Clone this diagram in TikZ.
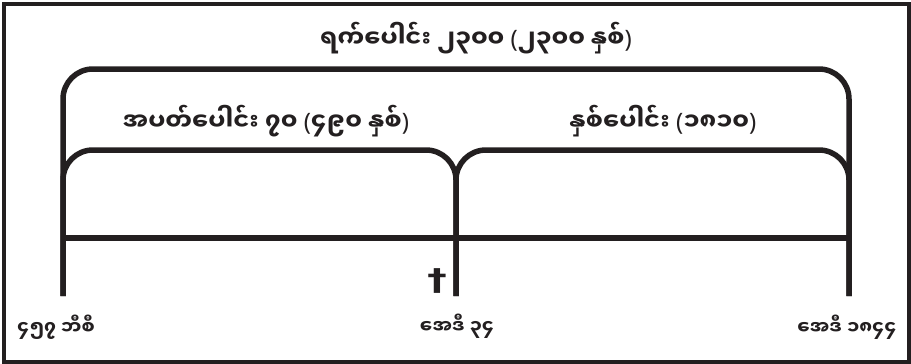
\documentclass[tikz,border=0pt]{standalone}
\usepackage{fontspec}
\newfontfamily\mymr[Script=Myanmar]{Noto Sans Myanmar UI}
\newfontfamily\latinfont{Noto Sans}
\newfontfamily\symfont{DejaVu Sans}
\newcommand{\lparen}{{\latinfont\bfseries(}}
\newcommand{\rparen}{{\latinfont\bfseries)}}
\definecolor{ink}{HTML}{231F20}
\tikzset{
	period/.style={draw=ink, line width=5.5pt, rounded corners=30pt},
	spanlabel/.style={font=\mymr\bfseries\fontsize{24}{28}\selectfont, text=ink, inner sep=0pt},
	datelabel/.style={font=\mymr\bfseries\fontsize{18.5}{22}\selectfont, text=ink, inner sep=0pt},
}

\begin{document}
\begin{tikzpicture}[x=1pt, y=-1pt]
		\useasboundingbox (0,0) rectangle (911,364);
		\draw[ink, line width=4pt] (3.5,4) rectangle (909,362);

		\coordinate (bc457) at (63,296);
		\coordinate (ad34) at (456,296);
		\coordinate (ad1844) at (849,296);
		\coordinate (outer) at (456,69);
		\coordinate (inner) at (456,150);
		\coordinate (timeline) at (456,238);

		\draw[period] (bc457) |- (outer) -| (ad1844);
		\draw[period] (ad34) |- (bc457 |- inner) -- (bc457);
		\draw[period] (ad34) |- (ad1844 |- inner) -- (ad1844);
		\draw[period, rounded corners=0pt] (bc457 |- timeline) -- (ad1844 |- timeline);

		\node[spanlabel] (days) at (476,38) {ရက်ပေါင်း ၂၃၀၀ \lparen၂၃၀၀ နှစ်\rparen};
		\node[spanlabel] (weeks) at (266,121) {အပတ်ပေါင်း ၇၀ \lparen၄၉၀ နှစ်\rparen};
		\node[spanlabel] (years) at (663,121) {နှစ်ပေါင်း \lparen၁၈၁၀\rparen};

		\node[datelabel] (start) at (56,327) {၄၅၇ ဘီစီ};
		\node[datelabel] (middle) at (457,326) {အေဒီ ၃၄};
		\node[datelabel] (finish) at (847,327) {အေဒီ ၁၈၄၄};
		\node[font=\symfont\bfseries\fontsize{30}{30}\selectfont, text=ink, inner sep=0pt, xscale=1.3, transform shape] (cross) at (437,281) {†};
	\end{tikzpicture}
\end{document}
